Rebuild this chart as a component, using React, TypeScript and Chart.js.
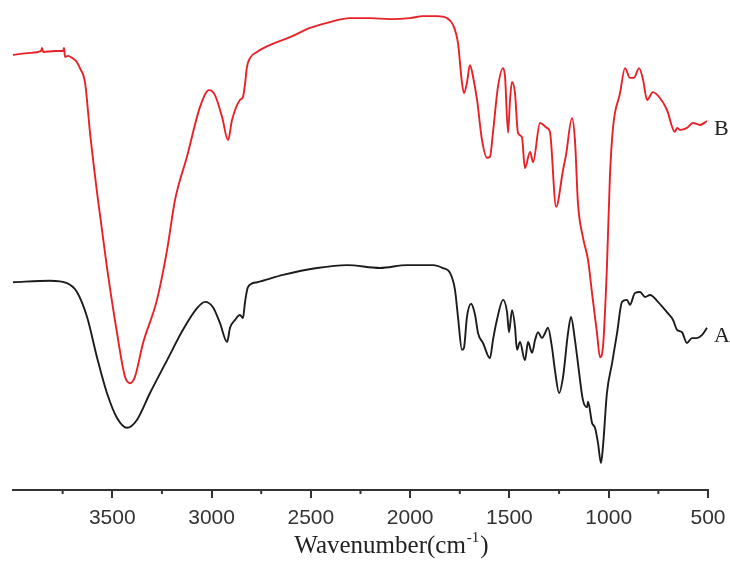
import React, { useEffect, useRef } from "react";
import { Chart, registerables } from "chart.js";

Chart.register(...registerables);

// Sample B (red) — wavenumber (cm-1) and transmittance (a.u.)
const wavenumbersB = [4000,3914,3858,3854,3848,3788,3748,3743,3738,3723,3703,3678,3663,3637,3612,3572,3527,3476,3436,3411,3386,3345,3275,3224,3184,3124,3058,3013,2983,2947,2917,2897,2857,2842,2832,2822,2806,2771,2706,2605,2504,2404,2303,2202,2101,2001,1935,1865,1814,1784,1759,1739,1729,1714,1699,1683,1663,1638,1613,1598,1583,1558,1532,1522,1507,1497,1487,1472,1457,1437,1422,1396,1381,1346,1311,1296,1265,1230,1215,1185,1170,1155,1130,1104,1084,1059,1044,1029,1009,994,978,943,918,893,873,847,827,807,777,742,707,667,656,641,606,576,540,505];
const transmittanceB = [88.8,89.2,89.6,90.2,89.4,89.6,89.6,90.2,88.4,88.6,88.2,87.3,86.1,83.1,72.9,59.2,45.5,32.0,23.1,21.8,23.1,30.0,38.8,49.0,59.2,68.0,78.2,81.6,80.6,76.1,71.4,75.5,79.6,80.2,82.7,86.3,88.2,89.4,90.8,92.4,94.3,95.5,96.3,96.3,96.1,96.3,96.7,96.7,96.3,94.9,91.2,83.1,81.0,83.1,86.7,84.3,79.6,71.4,67.8,68.0,72.9,82.2,86.1,84.3,72.9,79.6,83.3,81.0,72.9,72.0,65.7,69.0,66.9,74.9,73.9,73.1,57.8,65.3,68.4,75.9,71.4,58.6,51.6,46.9,40.2,32.0,27.1,29.2,45.5,63.9,74.1,81.0,86.1,84.1,84.1,86.1,83.7,79.6,81.2,80.0,77.6,73.1,73.9,73.5,73.9,74.9,74.5,75.3];

// Sample A (black)
const wavenumbersA = [4000,3814,3728,3678,3627,3577,3527,3476,3426,3376,3310,3224,3144,3073,3033,2993,2958,2922,2907,2882,2857,2842,2832,2817,2771,2640,2469,2318,2152,2016,1885,1835,1799,1774,1759,1739,1729,1714,1693,1673,1658,1633,1598,1583,1563,1532,1512,1502,1487,1472,1462,1447,1422,1406,1386,1371,1356,1336,1321,1306,1286,1271,1250,1230,1205,1190,1170,1155,1130,1109,1104,1084,1069,1054,1039,1029,1009,983,958,933,908,893,868,842,817,792,752,707,676,656,631,606,581,556,531,505];
const transmittanceA = [42.4,42.7,42.2,40.4,35.3,27.1,19.8,14.7,12.7,14.3,19.8,26.5,32.7,37.1,38.4,37.3,34.1,30.2,33.1,34.7,35.7,35.1,38.2,41.4,42.4,43.9,45.3,45.9,45.3,45.9,45.9,45.3,44.3,40.8,35.3,28.6,29.0,35.3,38.0,35.7,32.0,30.0,26.9,30.6,34.7,38.8,36.3,32.2,36.7,33.3,28.6,30.2,26.5,30.2,28.0,30.6,32.2,31.0,32.0,33.1,29.2,24.5,19.8,23.1,32.0,35.3,30.6,25.9,18.4,16.9,18.0,13.7,12.7,9.6,5.5,8.8,19.8,25.9,32.0,38.4,38.8,37.8,40.2,40.4,39.4,39.8,38.4,36.3,34.7,32.7,32.2,30.0,31.0,31.0,31.6,33.1];

const seriesLabels = ["B", "A"];
const majorTicks = [4000, 3500, 3000, 2500, 2000, 1500, 1000, 500];
const minorTicks = [3750, 3250, 2750, 2250, 1750, 1250, 750];
const axisTitle = { main: "Wavenumber(cm", sup: "-1", end: ")" };

const toPoints = (xs: number[], ys: number[]) => xs.map((x, i) => ({ x, y: ys[i] }));

const decorations = {
  id: "decorations",
  afterDraw(chart: any) {
    const { ctx, chartArea, scales } = chart;
    const x = scales.x;
    ctx.save();
    // minor ticks
    ctx.strokeStyle = "#333";
    ctx.lineWidth = 2;
    minorTicks.forEach((v) => {
      const px = x.getPixelForValue(v);
      ctx.beginPath();
      ctx.moveTo(px, chartArea.bottom);
      ctx.lineTo(px, chartArea.bottom + 4);
      ctx.stroke();
    });
    // series end labels
    ctx.font = '22px "Liberation Serif", serif';
    ctx.fillStyle = "#222";
    ctx.textAlign = "left";
    ctx.textBaseline = "middle";
    chart.data.datasets.forEach((_: any, i: number) => {
      const meta = chart.getDatasetMeta(i);
      const last = meta.data[meta.data.length - 1];
      ctx.fillText(seriesLabels[i], last.x + 7, last.y + 8);
    });
    // axis title with superscript
    const mainFont = '25px "Liberation Serif", serif';
    const supFont = '15px "Liberation Serif", serif';
    ctx.font = mainFont;
    const w1 = ctx.measureText(axisTitle.main).width;
    const w3 = ctx.measureText(axisTitle.end).width;
    ctx.font = supFont;
    const w2 = ctx.measureText(axisTitle.sup).width;
    const total = w1 + w2 + w3 + 2;
    const cx = (chartArea.left + chartArea.right) / 2 + 31;
    const baseY = chartArea.bottom + 63;
    let sx = cx - total / 2;
    ctx.textBaseline = "alphabetic";
    ctx.fillStyle = "#222";
    ctx.font = mainFont;
    ctx.fillText(axisTitle.main, sx, baseY);
    sx += w1 + 1;
    ctx.font = supFont;
    ctx.fillText(axisTitle.sup, sx, baseY - 11);
    sx += w2 + 1;
    ctx.font = mainFont;
    ctx.fillText(axisTitle.end, sx, baseY);
    ctx.restore();
  },
};

export default function App() {
  const canvasRef = useRef<HTMLCanvasElement | null>(null);

  useEffect(() => {
    const canvas = canvasRef.current;
    if (!canvas) return;
    const chart = new Chart(canvas, {
      type: "line",
      data: {
        datasets: [
          {
            label: "B",
            data: toPoints(wavenumbersB, transmittanceB),
            borderColor: "#e82127",
            borderWidth: 1.9,
            pointRadius: 0,
            cubicInterpolationMode: "monotone",
            fill: false,
          },
          {
            label: "A",
            data: toPoints(wavenumbersA, transmittanceA),
            borderColor: "#1c1c1c",
            borderWidth: 1.9,
            pointRadius: 0,
            cubicInterpolationMode: "monotone",
            fill: false,
          },
        ],
      },
      options: {
        responsive: false,
        animation: false,
        layout: { padding: { left: 13, right: 22, top: 0, bottom: 0 } },
        plugins: { legend: { display: false }, tooltip: { enabled: false } },
        scales: {
          x: {
            type: "linear",
            reverse: true,
            min: 500,
            max: 4000,
            afterBuildTicks: (scale: any) => {
              scale.ticks = majorTicks.map((v) => ({ value: v }));
            },
            afterFit: (scale: any) => {
              scale.height = 71;
              scale.paddingLeft = 0;
              scale.paddingRight = 0;
            },
            ticks: {
              autoSkip: false,
              maxRotation: 0,
              padding: 8,
              color: "#333",
              font: { family: '"Liberation Sans", Arial, sans-serif', size: 21 },
              callback: (v: any) => (v === 4000 ? "" : String(v)),
            },
            grid: {
              drawOnChartArea: false,
              drawTicks: true,
              tickLength: 8,
              lineWidth: 2,
              color: (c: any) => (c.tick && c.tick.value === 4000 ? "rgba(0,0,0,0)" : "#333"),
            },
            border: { display: true, color: "#333", width: 2 },
          },
          y: {
            display: false,
            min: 0,
            max: 100,
          },
        },
      },
      plugins: [decorations],
    });
    return () => chart.destroy();
  }, []);

  return (
    <div style={{ position: "absolute", left: 0, top: 0, width: 730, height: 561, background: "#fff" }}>
      <canvas ref={canvasRef} width={730} height={561} style={{ display: "block" }} />
    </div>
  );
}
